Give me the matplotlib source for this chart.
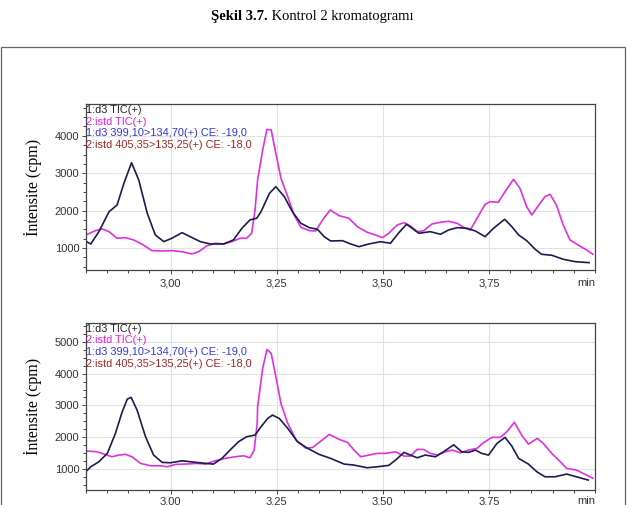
import matplotlib
matplotlib.use("Agg")
import matplotlib.pyplot as plt
from matplotlib.ticker import FixedLocator, MultipleLocator, FuncFormatter
from matplotlib.patches import Rectangle

# --- veri: ust kromatogram (Kontrol 2, 1. enjeksiyon) ---
t_d3_1 = [2.800, 2.812, 2.831, 2.855, 2.874, 2.890, 2.908, 2.925, 2.945, 2.964,
          2.984, 3.003, 3.027, 3.046, 3.070, 3.093, 3.125, 3.148, 3.168, 3.187,
          3.203, 3.213, 3.233, 3.248, 3.268, 3.287, 3.307, 3.327, 3.346, 3.362,
          3.377, 3.405, 3.424, 3.444, 3.467, 3.495, 3.518, 3.538, 3.556, 3.569,
          3.585, 3.612, 3.636, 3.655, 3.675, 3.698, 3.718, 3.741, 3.761, 3.787,
          3.804, 3.820, 3.839, 3.859, 3.874, 3.898, 3.925, 3.953, 3.986]
y_d3_1 = [1180, 1107, 1436, 1970, 2150, 2730, 3280, 2818, 1928, 1348,
          1170, 1259, 1410, 1302, 1170, 1107, 1107, 1214, 1527, 1750,
          1795, 1970, 2463, 2640, 2372, 1970, 1660, 1543, 1500, 1302,
          1187, 1195, 1107, 1035, 1107, 1168, 1126, 1410, 1634, 1527,
          1393, 1436, 1366, 1481, 1543, 1527, 1455, 1302, 1527, 1767,
          1570, 1348, 1195, 965, 831, 805, 698, 634, 607]

t_istd_1 = [2.804, 2.823, 2.839, 2.855, 2.874, 2.894, 2.913, 2.933, 2.956, 2.980,
            3.003, 3.027, 3.050, 3.066, 3.085, 3.105, 3.125, 3.144, 3.164, 3.179,
            3.191, 3.199, 3.205, 3.217, 3.227, 3.237, 3.248, 3.260, 3.276, 3.291,
            3.307, 3.327, 3.342, 3.358, 3.376, 3.397, 3.420, 3.440, 3.463, 3.483,
            3.499, 3.514, 3.534, 3.550, 3.565, 3.581, 3.596, 3.616, 3.636, 3.655,
            3.675, 3.694, 3.706, 3.722, 3.741, 3.753, 3.772, 3.788, 3.808, 3.823,
            3.839, 3.851, 3.866, 3.882, 3.894, 3.909, 3.925, 3.941, 3.960, 3.980,
            3.995]
y_istd_1 = [1366, 1463, 1508, 1436, 1259, 1275, 1214, 1099, 928, 920,
            928, 900, 840, 900, 1053, 1126, 1107, 1170, 1259, 1259,
            1393, 2016, 2818, 3620, 4174, 4155, 3532, 2864, 2372, 1882,
            1553, 1463, 1455, 1750, 2016, 1864, 1794, 1570, 1420, 1348,
            1275, 1393, 1615, 1677, 1588, 1436, 1460, 1642, 1687, 1714,
            1660, 1527, 1481, 1794, 2168, 2238, 2222, 2505, 2837, 2596,
            2104, 1882, 2123, 2372, 2436, 2150, 1615, 1214, 1080, 947,
            831]

# --- veri: alt kromatogram (Kontrol 2, 2. enjeksiyon) ---
t_d3_2 = [2.800, 2.812, 2.831, 2.851, 2.870, 2.886, 2.898, 2.907, 2.921, 2.941,
          2.960, 2.980, 3.000, 3.027, 3.054, 3.082, 3.101, 3.121, 3.140, 3.160,
          3.179, 3.199, 3.213, 3.229, 3.240, 3.256, 3.276, 3.299, 3.323, 3.350,
          3.377, 3.409, 3.432, 3.463, 3.487, 3.514, 3.530, 3.550, 3.565, 3.581,
          3.600, 3.624, 3.643, 3.667, 3.686, 3.702, 3.718, 3.733, 3.749, 3.769,
          3.788, 3.804, 3.820, 3.843, 3.863, 3.882, 3.906, 3.933, 3.956, 3.984]
y_d3_2 = [905, 1063, 1221, 1486, 2117, 2798, 3199, 3253, 2852, 2010,
          1432, 1202, 1189, 1252, 1211, 1170, 1148, 1328, 1590, 1852,
          2010, 2063, 2325, 2590, 2694, 2590, 2275, 1852, 1644, 1454,
          1328, 1148, 1117, 1032, 1063, 1107, 1274, 1517, 1432, 1347,
          1432, 1379, 1536, 1757, 1536, 1517, 1590, 1486, 1432, 1801,
          1990, 1716, 1328, 1148, 905, 748, 748, 833, 748, 644]

t_istd_2 = [2.804, 2.827, 2.843, 2.862, 2.878, 2.894, 2.909, 2.929, 2.953, 2.976,
            2.992, 3.012, 3.035, 3.062, 3.082, 3.105, 3.129, 3.152, 3.172, 3.187,
            3.197, 3.204, 3.205, 3.217, 3.227, 3.237, 3.248, 3.260, 3.276, 3.296,
            3.319, 3.335, 3.355, 3.374, 3.397, 3.417, 3.432, 3.448, 3.467, 3.487,
            3.507, 3.530, 3.550, 3.565, 3.581, 3.596, 3.612, 3.628, 3.647, 3.663,
            3.683, 3.702, 3.722, 3.737, 3.757, 3.777, 3.792, 3.810, 3.827, 3.843,
            3.864, 3.878, 3.898, 3.918, 3.933, 3.956, 3.980, 3.995]
y_istd_2 = [1558, 1536, 1464, 1379, 1432, 1454, 1379, 1170, 1095, 1095,
            1063, 1139, 1148, 1170, 1148, 1252, 1328, 1379, 1410, 1347,
            1590, 2432, 2956, 4168, 4767, 4641, 3903, 3063, 2432, 1905,
            1643, 1675, 1884, 2085, 1928, 1833, 1590, 1379, 1432, 1486,
            1486, 1536, 1400, 1400, 1612, 1610, 1486, 1432, 1536, 1590,
            1505, 1590, 1643, 1820, 1990, 1990, 2167, 2464, 2063, 1779,
            1959, 1801, 1486, 1221, 1013, 959, 801, 697]

x_ticks = [3.00, 3.25, 3.50, 3.75]
legend_lines = ["1:d3 TIC(+)", "2:istd TIC(+)",
                "1:d3 399,10>134,70(+) CE: -19,0",
                "2:istd 405,35>135,25(+) CE: -18,0"]
legend_colors = ["#222222", "#e020e0", "#3535e0", "#a02525"]

panels = [
    (t_d3_1, y_d3_1, t_istd_1, y_istd_1, (410, 4850), [1000, 2000, 3000, 4000]),
    (t_d3_2, y_d3_2, t_istd_2, y_istd_2, (330, 5610), [1000, 2000, 3000, 4000, 5000]),
]

plt.rcParams["font.family"] = ["Liberation Sans", "DejaVu Sans"]

fig = plt.figure(figsize=(6.33, 5.05), dpi=100)

# dis cerceve
fig.patches.append(Rectangle((0.002, -0.02), 0.985, 0.927, transform=fig.transFigure,
                             fill=False, edgecolor="#666666", linewidth=0.9))

axes_pos = [[0.1354, 0.4653, 0.8046, 0.3287],
            [0.1354, 0.0297, 0.8046, 0.3313]]
tick_pads = [3, 1.5]

for pos, pad, (td, yd, ti, yi, ylim, yt) in zip(axes_pos, tick_pads, panels):
    ax = fig.add_axes(pos)
    ax.plot(ti, yi, color="#e030e0", lw=1.2, solid_joinstyle="round")
    ax.plot(td, yd, color="#1c1c4e", lw=1.2, solid_joinstyle="round")
    ax.set_xlim(2.80, 4.00)
    ax.set_ylim(*ylim)
    ax.xaxis.set_major_locator(FixedLocator(x_ticks))
    ax.xaxis.set_minor_locator(MultipleLocator(0.05))
    ax.yaxis.set_major_locator(FixedLocator(yt))
    ax.yaxis.set_minor_locator(MultipleLocator(250))
    ax.xaxis.set_major_formatter(FuncFormatter(lambda v, p: f"{v:.2f}".replace(".", ",")))
    ax.yaxis.set_major_formatter(FuncFormatter(lambda v, p: f"{v:.0f}"))
    ax.tick_params(which="both", direction="out", colors="#444444", labelcolor="#333333",
                   labelsize=8, width=0.7)
    ax.tick_params(which="major", length=3)
    ax.tick_params(axis="x", which="major", pad=pad)
    ax.tick_params(axis="y", which="major", pad=1.5)
    ax.tick_params(which="minor", length=2.5)
    ax.grid(True, which="major", color="#e2e2e2", lw=0.8)
    ax.set_axisbelow(True)
    for s in ax.spines.values():
        s.set_color("#444444")
        s.set_linewidth(0.9)
    ax.text(1.0, -(3 + pad) / 72 * 100 / (pos[3] * 505), "min", transform=ax.transAxes,
            ha="right", va="top", fontsize=8, color="#333333")
    for i, (txt, c) in enumerate(zip(legend_lines, legend_colors)):
        ax.text(0.001, 0.995 - i * 0.071 * (0.3287 / pos[3]), txt, transform=ax.transAxes,
                ha="left", va="top", fontsize=7.9, color=c)
    fig.text(0.052, pos[1] + pos[3] / 2, "İntensite (cpm)", rotation=90,
             ha="center", va="center", fontsize=11.5, family="Liberation Serif")

# baslik: kalin + normal kisim
fig.canvas.draw()
r = fig.canvas.get_renderer()
t1 = fig.text(0, 0.968, "Şekil 3.7.", fontsize=10.5, weight="bold",
              family="Liberation Serif", ha="left", va="center")
t2 = fig.text(0, 0.968, " Kontrol 2 kromatogramı", fontsize=10.5,
              family="Liberation Serif", ha="left", va="center")
w1 = t1.get_window_extent(r).width
w2 = t2.get_window_extent(r).width
W = fig.bbox.width
x0 = W * (312 / 633) - (w1 + w2) / 2
t1.set_x(x0 / W)
t2.set_x((x0 + w1) / W)

fig.savefig("out.png", dpi=100)
